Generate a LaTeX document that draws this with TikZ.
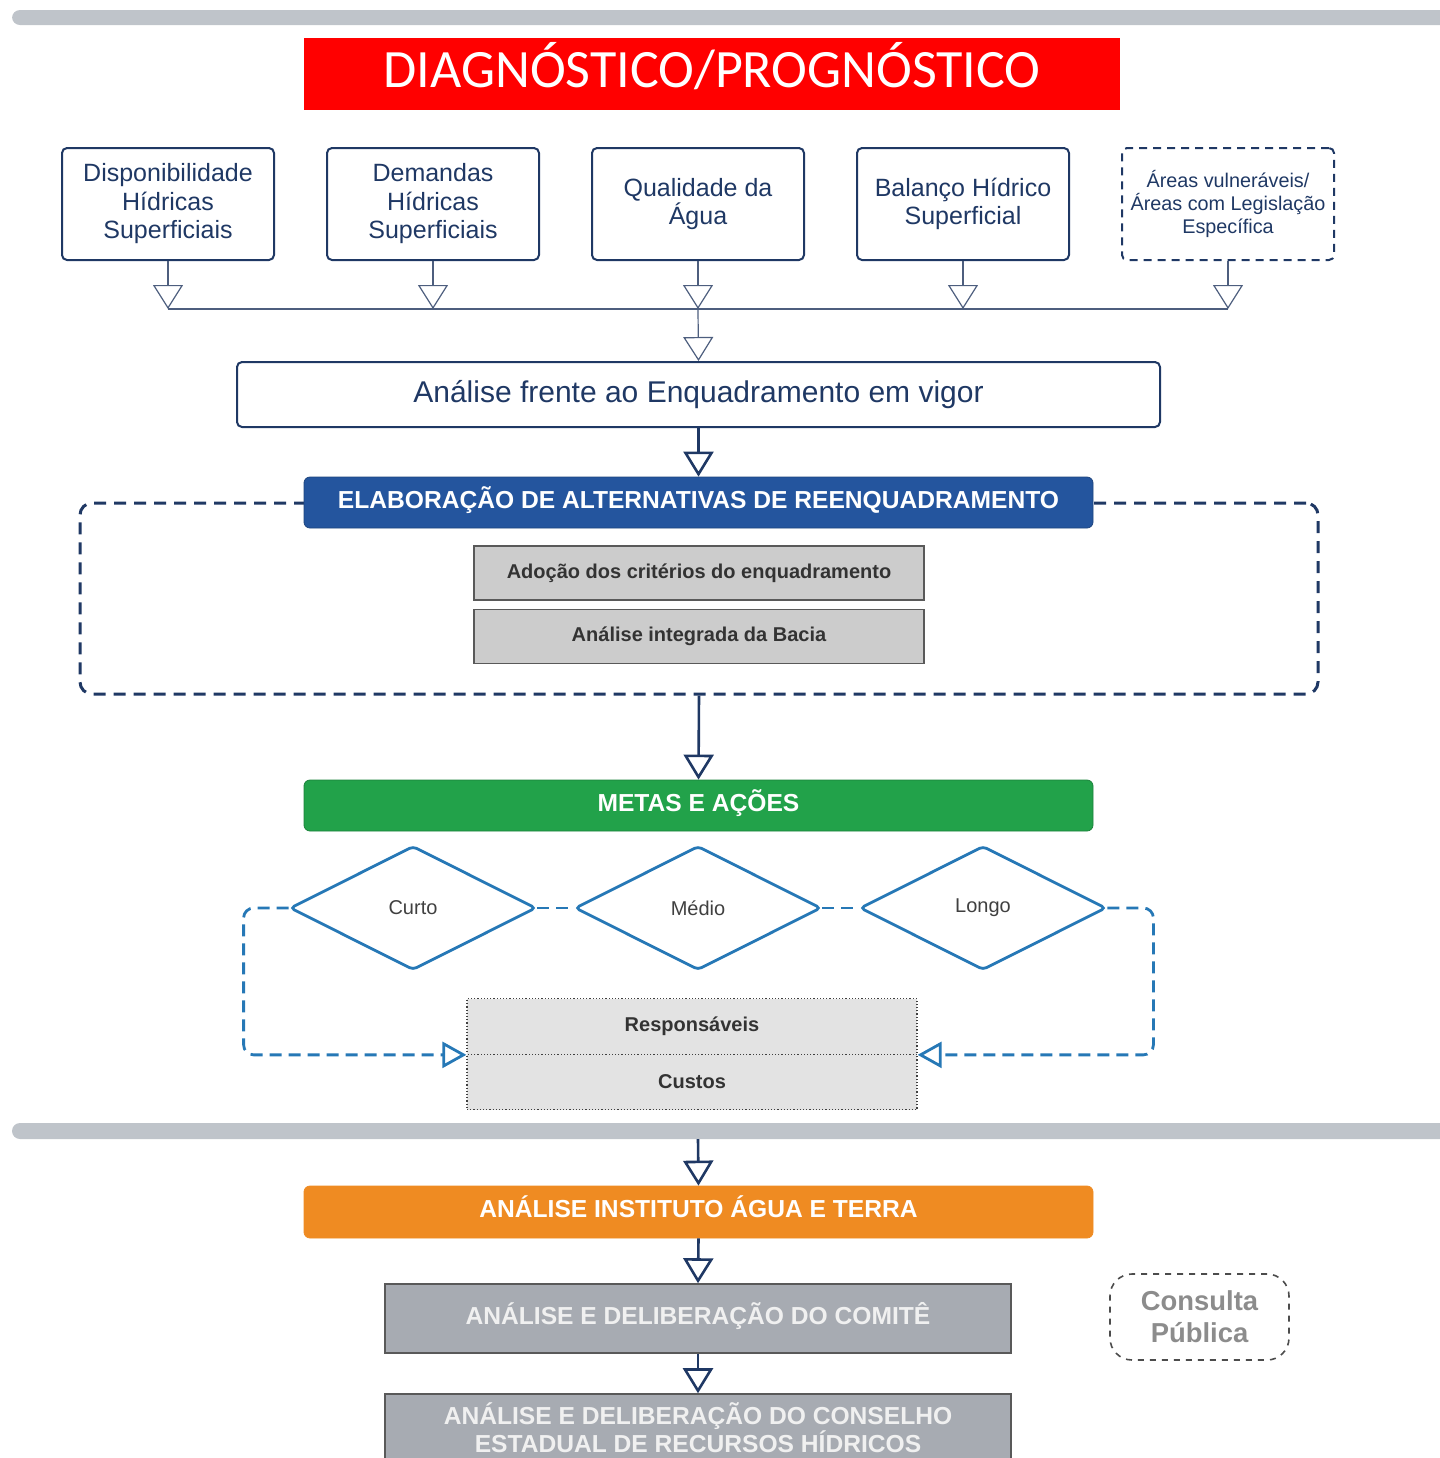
\documentclass[tikz,border=0pt]{standalone}
\usepackage{fontspec}
\setmainfont{Liberation Sans}
\newfontfamily\titlefont{Carlito}
\usetikzlibrary{arrows.meta, positioning, shapes.geometric}

\definecolor{navy}{HTML}{1F3864}
\definecolor{linha}{HTML}{4D5E7E}
\definecolor{azul}{HTML}{24559E}
\definecolor{azulclaro}{HTML}{2678B6}
\definecolor{verde}{HTML}{22A24A}
\definecolor{laranja}{HTML}{EF8B22}
\definecolor{cinza}{HTML}{A7ABB2}
\definecolor{barra}{HTML}{BFC4CA}

\begin{document}
\begin{tikzpicture} [x=0.5pt, y=-0.5pt, node distance=132.5pt, on grid, auto,
    topbox/.style={draw=navy, line width=1pt, rounded corners=2.5pt, minimum width=106pt,
        minimum height=56pt, align=center, text=navy, inner sep=2pt,
        font=\fontsize{12.5}{14.25}\selectfont},
    faixa/.style={rounded corners=3pt, minimum width=394.5pt, minimum height=25.5pt,
        text height=8.9pt, text depth=3pt, text=white,
        font=\bfseries\fontsize{12.3}{14}\selectfont},
    cinzabox/.style={draw=black!65, line width=0.7pt, fill=black!20, minimum width=225pt,
        minimum height=27pt, text=black!80, font=\bfseries\fontsize{10}{12}\selectfont},
    prazo/.style={diamond, draw=azulclaro, line width=1.4pt, rounded corners=2pt, inner sep=0pt,
        minimum width=123pt, minimum height=62pt, text=black!75, font=\fontsize{10}{12}\selectfont},
    pontilhado/.style={draw=black!75, densely dotted, line width=0.6pt, fill=black!11,
        minimum width=225pt, minimum height=27.75pt, text=black!80,
        font=\bfseries\fontsize{10}{12}\selectfont},
    deliberacao/.style={draw=black!65, line width=0.8pt, fill=cinza, minimum width=313pt,
        text=white!94!black, align=center, font=\bfseries\fontsize{12.3}{14}\selectfont},
    thinarrow/.style={draw=linha, line width=0.6pt, -{Triangle[open, width=15pt, length=12pt]}},
    navyarrow/.style={draw=navy, line width=1.3pt, -{Triangle[open, width=15pt, length=12.5pt]}},
    bluedash/.style={draw=azulclaro, line width=1.4pt, dash pattern=on 6pt off 3.5pt},
    bluearrow/.style={bluedash, rounded corners=5pt, -{Triangle[open, width=13pt, length=12pt]}}]

    \useasboundingbox (0,0) rectangle (1440,1458);
    \fill[barra, rounded corners=4pt] (12,10) rectangle (1470,25);
    \fill[barra, rounded corners=4pt] (12,1123) rectangle (1470,1139);

    % diagnostico
    \node (titulo) [fill=red, minimum width=408pt, minimum height=36pt, text=white,
        text height=17.4pt, text depth=4pt,
        font=\titlefont\fontsize{27}{30}\selectfont] at (712,74) {DIAGNÓSTICO/PROGNÓSTICO};

    \node (disp) [topbox] at (168,204) {Disponibilidade\\Hídricas\\Superficiais};
    \node (dem) [topbox, right=of disp] {Demandas\\Hídricas\\Superficiais};
    \node (qual) [topbox, right=of dem] {Qualidade da\\Água};
    \node (bal) [topbox, right=of qual] {Balanço Hídrico\\Superficial};
    \node (areas) [topbox, dashed, dash pattern=on 4pt off 3pt, right=of bal,
        font=\fontsize{9.9}{11.5}\selectfont] {Áreas vulneráveis/\\Áreas com Legislação\\Específica};
    \coordinate (bus) at (698,309);

    \node (analise) [draw=navy, line width=1pt, rounded corners=2.5pt, minimum width=461.5pt,
        minimum height=32.5pt, text=navy, font=\fontsize{15}{18}\selectfont]
        at (698.5,394.5) {Análise frente ao Enquadramento em vigor};

    % reenquadramento
    \node (quadro) [draw=navy, line width=1.5pt, dash pattern=on 6pt off 4pt, rounded corners=6pt,
        minimum width=619pt, minimum height=95.5pt] at (699,598.5) {};
    \node (elab) [faixa, fill=azul, draw=azul!80!black] at (698.5,502.5)
        {ELABORAÇÃO DE ALTERNATIVAS DE REENQUADRAMENTO};
    \node (adocao) [cinzabox] at (699,573) {Adoção dos critérios do enquadramento};
    \node (bacia) [cinzabox, below=31.75pt of adocao] {Análise integrada da Bacia};

    % metas
    \node (metas) [faixa, fill=verde, draw=verde!80!black] at (698.5,805.5) {METAS E AÇÕES};
    \node (medio) [prazo] at (698,908) {Médio};
    \node (curto) [prazo, left=142.5pt of medio] {Curto};
    \node (longo) [prazo, right=142.5pt of medio] {Longo};
    \node (resp) [pontilhado] at (692,1026.5) {Responsáveis};
    \node (custos) [pontilhado, below=27.75pt of resp] {Custos};
    \coordinate (barra2) at (698,1139);

    % analises finais
    \node (inst) [faixa, fill=laranja, draw=laranja, minimum height=26pt] at (698.5,1212)
        {ANÁLISE INSTITUTO ÁGUA E TERRA};
    \node (comite) [deliberacao, minimum height=34.5pt, text height=8.9pt, text depth=3pt]
        at (698,1318.5) {ANÁLISE E DELIBERAÇÃO DO COMITÊ};
    \node (conselho) [deliberacao, minimum height=34pt] at (698,1428)
        {ANÁLISE E DELIBERAÇÃO DO CONSELHO\\ESTADUAL DE RECURSOS HÍDRICOS};
    \node (consulta) [draw=black!70, dashed, line width=0.8pt, rounded corners=11pt,
        minimum width=89.5pt, minimum height=43pt, align=center, text=black!45,
        font=\bfseries\fontsize{13.7}{16}\selectfont] at (1199.5,1317) {Consulta\\Pública};

    % conectores
    \foreach \n in {disp,dem,qual,bal,areas}
        \path (\n.south) edge[thinarrow] (\n.south |- bus);
    \draw[linha, line width=0.6pt] (disp.south |- bus) -- (areas.south |- bus);
    \path (bus) edge[thinarrow] (analise.north);
    \path (analise.south) edge[navyarrow] (elab.north);
    \path (quadro.south) edge[navyarrow] (metas.north);
    \path (curto.east) edge[bluedash] (medio.west);
    \path (medio.east) edge[bluedash] (longo.west);
    \draw[bluearrow] (curto.west) -- ++(-45,0) |- (resp.south west);
    \draw[bluearrow] (longo.east) -- ++(46,0) |- (resp.south east);
    \path (barra2) edge[navyarrow] (inst.north);
    \path (inst.south) edge[navyarrow] (comite.north);
    \path (comite.south) edge[navyarrow] (conselho.north);
\end{tikzpicture}
\end{document}
